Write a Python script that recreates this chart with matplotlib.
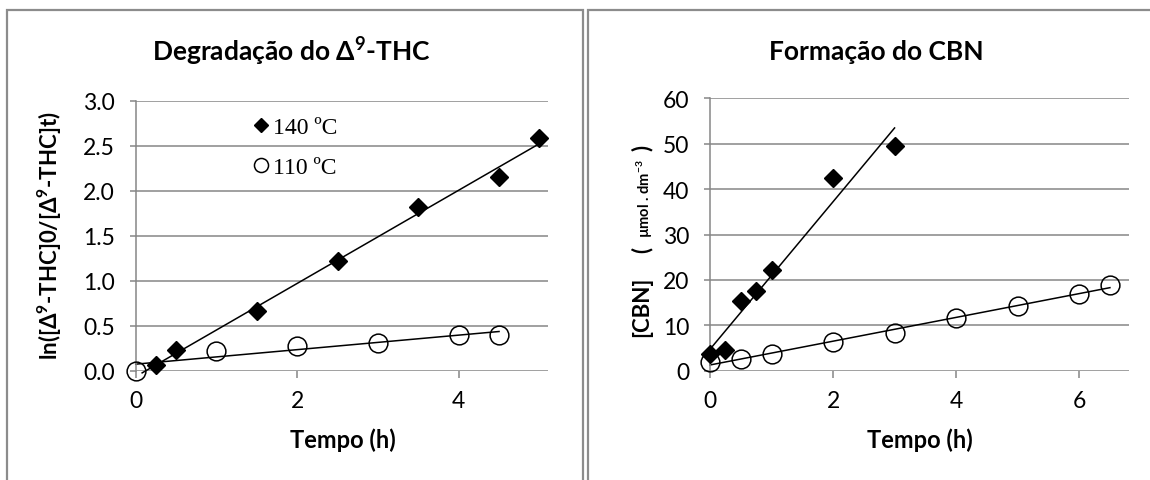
import numpy as np
import matplotlib
matplotlib.use("Agg")
import matplotlib.pyplot as plt
from matplotlib.patches import Rectangle

# Δ9-THC degradation: ln([THC]0/[THC]t) vs time
thc_t_140 = [0.25, 0.5, 1.5, 2.5, 3.5, 4.5, 5.0]
thc_y_140 = [0.06, 0.23, 0.66, 1.22, 1.82, 2.15, 2.59]
thc_t_110 = [0.0, 1.0, 2.0, 3.0, 4.0, 4.5]
thc_y_110 = [0.00, 0.215, 0.28, 0.31, 0.40, 0.40]

# CBN formation (µmol/dm3) vs time
cbn_t_140 = [0.0, 0.25, 0.5, 0.75, 1.0, 2.0, 3.0]
cbn_y_140 = [3.6, 4.5, 15.3, 17.5, 22.2, 42.4, 49.4]
cbn_t_110 = [0.0, 0.5, 1.0, 2.0, 3.0, 4.0, 5.0, 6.0, 6.5]
cbn_y_110 = [2.0, 2.6, 3.7, 6.4, 8.3, 11.5, 14.3, 17.0, 18.9]

labels = ["140 ºC", "110 ºC"]
thc_yticks = [0.0, 0.5, 1.0, 1.5, 2.0, 2.5, 3.0]
cbn_yticks = [0, 10, 20, 30, 40, 50, 60]

GRID = "#868686"

plt.rcParams['font.family'] = ["Lato", "DejaVu Sans"]
plt.rcParams['mathtext.fontset'] = 'custom'
plt.rcParams['mathtext.rm'] = 'Lato'
plt.rcParams['mathtext.bf'] = 'Lato:bold'
plt.rcParams['mathtext.it'] = 'Lato:italic'

W, H = 1150, 481
fig = plt.figure(figsize=(W / 100, H / 100), dpi=100)


def px_axes(x0, y0, x1, y1):
    return fig.add_axes([x0 / W, 1 - y1 / H, (x1 - x0) / W, (y1 - y0) / H])


def style(ax, xticks, yticks, fmt):
    for s in ("top", "right", "bottom"):
        ax.spines[s].set_visible(False)
    ax.spines["left"].set_color(GRID)
    ax.spines["left"].set_linewidth(1.1)
    ax.set_xticks(xticks)
    ax.set_yticks(yticks)
    ax.set_yticklabels([fmt.format(v) for v in yticks])
    ax.yaxis.grid(True, color=GRID, linewidth=1.1)
    ax.set_axisbelow(True)
    ax.tick_params(axis="x", length=5, width=1.1, color=GRID, pad=9, labelsize=16.5)
    ax.tick_params(axis="y", length=4, width=1.1, color=GRID, pad=11, labelsize=16.5)


def trend(ax, t, y, x0=0.0):
    k, b = np.polyfit(t, y, 1)
    xs = np.array([x0, max(t)])
    ax.plot(xs, k * xs + b, color="black", lw=1.1, zorder=2, clip_on=False)


def scatter(ax, t140, y140, t110, y110):
    h1, = ax.plot(t140, y140, "D", ms=9, color="black", zorder=3, clip_on=False)
    h2, = ax.plot(t110, y110, "o", ms=13.5, mfc="none", mec="black", mew=1.1,
                  zorder=4, clip_on=False)
    return h1, h2


# left panel
ax1 = px_axes(135.7, 101.7, 548.3, 371.7)
style(ax1, [0, 2, 4], thc_yticks, "{:.1f}")
ax1.set_xlim(0, 5.11)
ax1.set_ylim(0, 3.0)
trend(ax1, thc_t_140, thc_y_140, x0=0.08)
trend(ax1, thc_t_110, thc_y_110)
h1, h2 = scatter(ax1, thc_t_140, thc_y_140, thc_t_110, thc_y_110)
ax1.legend([h1, h2], labels, loc="upper left", bbox_to_anchor=(0.255, 0.985),
           frameon=False, borderpad=0, handlelength=0.7, handletextpad=0.15,
           labelspacing=0.78, markerscale=0.75,
           prop={"family": "Liberation Serif", "size": 17})

fig.text(292 / W, 1 - 52 / H, r"Degradação do $\mathbf{\Delta^{9}}$-THC",
         ha="center", va="center", fontsize=19, fontweight="bold")
fig.text(50 / W, 1 - 236 / H, r"ln([$\mathbf{\Delta^{9}}$-THC]0/[$\mathbf{\Delta^{9}}$-THC]t)",
         ha="center", va="center", rotation=90, fontsize=16, fontweight="bold")
fig.text(343 / W, 1 - 440 / H, "Tempo (h)", ha="center", va="center",
         fontsize=17, fontweight="bold")

# right panel
ax2 = px_axes(710, 99.3, 1129, 371.7)
style(ax2, [0, 2, 4, 6], cbn_yticks, "{:d}")
ax2.set_xlim(0, 6.81)
ax2.set_ylim(0, 60)
trend(ax2, cbn_t_140, cbn_y_140, x0=-0.1)
trend(ax2, cbn_t_110, cbn_y_110)
scatter(ax2, cbn_t_140, cbn_y_140, cbn_t_110, cbn_y_110)

fig.text(876 / W, 1 - 52 / H, "Formação do CBN", ha="center", va="center",
         fontsize=19, fontweight="bold")
fig.text(920 / W, 1 - 440 / H, "Tempo (h)", ha="center", va="center",
         fontsize=17, fontweight="bold")
fig.text(642 / W, 1 - 307 / H, "[CBN]", ha="center", va="center",
         rotation=90, fontsize=16, fontweight="bold")
fig.text(642 / W, 1 - 250 / H, "(", ha="center", va="center",
         rotation=90, fontsize=16, fontweight="bold")
fig.text(645 / W, 1 - 199 / H, r"µmol . dm$^{\mathbf{-3}}$", ha="center", va="center",
         rotation=90, fontsize=10.5, fontweight="bold")
fig.text(642 / W, 1 - 148 / H, ")", ha="center", va="center",
         rotation=90, fontsize=16, fontweight="bold")

# panel frames
for x0, x1 in ((7, 583.5), (588, 1160)):
    fig.add_artist(Rectangle((x0 / W, -0.05), (x1 - x0) / W, 1.05 - 10.5 / H,
                             transform=fig.transFigure, fill=False,
                             edgecolor="#8c8c8c", linewidth=1.6, clip_on=False))

fig.savefig("out.png", dpi=100)
